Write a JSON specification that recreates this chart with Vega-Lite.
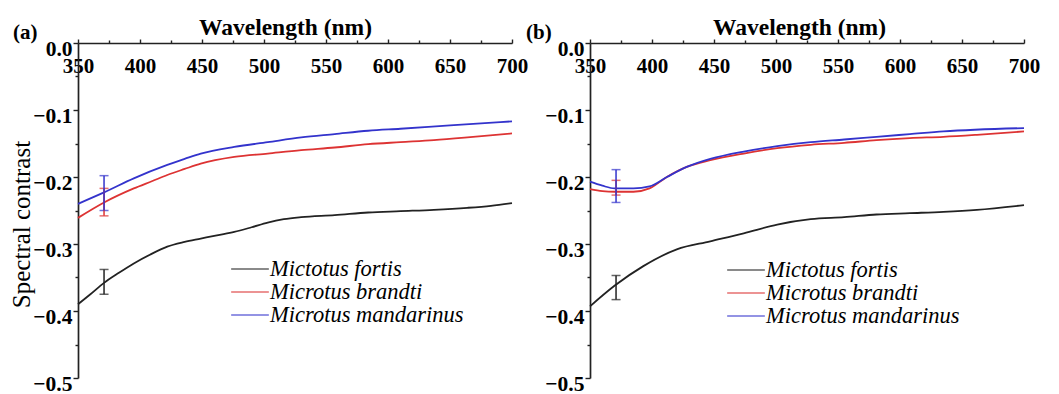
{
  "$schema": "https://vega.github.io/schema/vega-lite/v6.json",
  "background": "white",
  "padding": {"left": 9, "top": 15, "right": 5, "bottom": 0},
  "config": {
    "view": {"stroke": null},
    "axis": {"grid": false, "domainColor": "#222", "tickColor": "#222", "labelColor": "#000", "titleColor": "#000", "domainWidth": 1.7, "tickWidth": 1.4, "labelFont": "Liberation Serif, Times New Roman, serif", "titleFont": "Liberation Serif, Times New Roman, serif"},
    "title": {"font": "Liberation Serif, Times New Roman, serif", "fontSize": 21, "fontWeight": "bold", "color": "#000"},
    "legend": {"orient": "none", "symbolType": "stroke", "symbolSize": 1420, "symbolStrokeWidth": 1.7, "labelFont": "Liberation Serif, Times New Roman, serif", "labelFontStyle": "italic", "labelFontSize": 22.5, "labelColor": "#000", "labelOffset": 0, "labelLimit": 400, "rowPadding": 0, "clipHeight": 18, "padding": 0, "title": null}
  },
  "datasets": {
    "a": [
      {"wl": 350, "val": -0.390, "sp": "Mictotus fortis"},
      {"wl": 360, "val": -0.375, "sp": "Mictotus fortis"},
      {"wl": 371, "val": -0.358, "sp": "Mictotus fortis"},
      {"wl": 383, "val": -0.343, "sp": "Mictotus fortis"},
      {"wl": 395, "val": -0.329, "sp": "Mictotus fortis"},
      {"wl": 408, "val": -0.316, "sp": "Mictotus fortis"},
      {"wl": 422, "val": -0.304, "sp": "Mictotus fortis"},
      {"wl": 436, "val": -0.297, "sp": "Mictotus fortis"},
      {"wl": 449, "val": -0.292, "sp": "Mictotus fortis"},
      {"wl": 462, "val": -0.287, "sp": "Mictotus fortis"},
      {"wl": 476, "val": -0.282, "sp": "Mictotus fortis"},
      {"wl": 490, "val": -0.275, "sp": "Mictotus fortis"},
      {"wl": 503, "val": -0.268, "sp": "Mictotus fortis"},
      {"wl": 516, "val": -0.263, "sp": "Mictotus fortis"},
      {"wl": 530, "val": -0.260, "sp": "Mictotus fortis"},
      {"wl": 557, "val": -0.257, "sp": "Mictotus fortis"},
      {"wl": 584, "val": -0.253, "sp": "Mictotus fortis"},
      {"wl": 610, "val": -0.251, "sp": "Mictotus fortis"},
      {"wl": 637, "val": -0.249, "sp": "Mictotus fortis"},
      {"wl": 664, "val": -0.246, "sp": "Mictotus fortis"},
      {"wl": 683, "val": -0.243, "sp": "Mictotus fortis"},
      {"wl": 700, "val": -0.239, "sp": "Mictotus fortis"},
      {"wl": 350, "val": -0.261, "sp": "Microtus brandti"},
      {"wl": 371, "val": -0.238, "sp": "Microtus brandti"},
      {"wl": 395, "val": -0.217, "sp": "Microtus brandti"},
      {"wl": 410, "val": -0.206, "sp": "Microtus brandti"},
      {"wl": 422, "val": -0.197, "sp": "Microtus brandti"},
      {"wl": 436, "val": -0.188, "sp": "Microtus brandti"},
      {"wl": 449, "val": -0.180, "sp": "Microtus brandti"},
      {"wl": 476, "val": -0.170, "sp": "Microtus brandti"},
      {"wl": 503, "val": -0.165, "sp": "Microtus brandti"},
      {"wl": 530, "val": -0.160, "sp": "Microtus brandti"},
      {"wl": 557, "val": -0.156, "sp": "Microtus brandti"},
      {"wl": 584, "val": -0.151, "sp": "Microtus brandti"},
      {"wl": 610, "val": -0.148, "sp": "Microtus brandti"},
      {"wl": 637, "val": -0.145, "sp": "Microtus brandti"},
      {"wl": 664, "val": -0.141, "sp": "Microtus brandti"},
      {"wl": 700, "val": -0.135, "sp": "Microtus brandti"},
      {"wl": 350, "val": -0.240, "sp": "Microtus mandarinus"},
      {"wl": 371, "val": -0.223, "sp": "Microtus mandarinus"},
      {"wl": 395, "val": -0.202, "sp": "Microtus mandarinus"},
      {"wl": 422, "val": -0.182, "sp": "Microtus mandarinus"},
      {"wl": 436, "val": -0.173, "sp": "Microtus mandarinus"},
      {"wl": 449, "val": -0.165, "sp": "Microtus mandarinus"},
      {"wl": 476, "val": -0.155, "sp": "Microtus mandarinus"},
      {"wl": 503, "val": -0.148, "sp": "Microtus mandarinus"},
      {"wl": 530, "val": -0.141, "sp": "Microtus mandarinus"},
      {"wl": 557, "val": -0.136, "sp": "Microtus mandarinus"},
      {"wl": 584, "val": -0.131, "sp": "Microtus mandarinus"},
      {"wl": 610, "val": -0.128, "sp": "Microtus mandarinus"},
      {"wl": 650, "val": -0.123, "sp": "Microtus mandarinus"},
      {"wl": 700, "val": -0.117, "sp": "Microtus mandarinus"}
    ],
    "b": [
      {"wl": 350, "val": -0.393, "sp": "Mictotus fortis"},
      {"wl": 370, "val": -0.362, "sp": "Mictotus fortis"},
      {"wl": 393, "val": -0.333, "sp": "Mictotus fortis"},
      {"wl": 420, "val": -0.308, "sp": "Mictotus fortis"},
      {"wl": 447, "val": -0.296, "sp": "Mictotus fortis"},
      {"wl": 474, "val": -0.284, "sp": "Mictotus fortis"},
      {"wl": 501, "val": -0.271, "sp": "Mictotus fortis"},
      {"wl": 528, "val": -0.263, "sp": "Mictotus fortis"},
      {"wl": 555, "val": -0.260, "sp": "Mictotus fortis"},
      {"wl": 581, "val": -0.256, "sp": "Mictotus fortis"},
      {"wl": 608, "val": -0.254, "sp": "Mictotus fortis"},
      {"wl": 635, "val": -0.252, "sp": "Mictotus fortis"},
      {"wl": 662, "val": -0.249, "sp": "Mictotus fortis"},
      {"wl": 700, "val": -0.242, "sp": "Mictotus fortis"},
      {"wl": 350, "val": -0.218, "sp": "Microtus brandti"},
      {"wl": 360, "val": -0.221, "sp": "Microtus brandti"},
      {"wl": 370, "val": -0.222, "sp": "Microtus brandti"},
      {"wl": 385, "val": -0.222, "sp": "Microtus brandti"},
      {"wl": 398, "val": -0.217, "sp": "Microtus brandti"},
      {"wl": 412, "val": -0.200, "sp": "Microtus brandti"},
      {"wl": 428, "val": -0.185, "sp": "Microtus brandti"},
      {"wl": 447, "val": -0.175, "sp": "Microtus brandti"},
      {"wl": 474, "val": -0.165, "sp": "Microtus brandti"},
      {"wl": 501, "val": -0.157, "sp": "Microtus brandti"},
      {"wl": 528, "val": -0.152, "sp": "Microtus brandti"},
      {"wl": 555, "val": -0.149, "sp": "Microtus brandti"},
      {"wl": 581, "val": -0.145, "sp": "Microtus brandti"},
      {"wl": 608, "val": -0.142, "sp": "Microtus brandti"},
      {"wl": 635, "val": -0.140, "sp": "Microtus brandti"},
      {"wl": 662, "val": -0.137, "sp": "Microtus brandti"},
      {"wl": 700, "val": -0.132, "sp": "Microtus brandti"},
      {"wl": 350, "val": -0.207, "sp": "Microtus mandarinus"},
      {"wl": 360, "val": -0.213, "sp": "Microtus mandarinus"},
      {"wl": 370, "val": -0.217, "sp": "Microtus mandarinus"},
      {"wl": 385, "val": -0.217, "sp": "Microtus mandarinus"},
      {"wl": 398, "val": -0.214, "sp": "Microtus mandarinus"},
      {"wl": 412, "val": -0.200, "sp": "Microtus mandarinus"},
      {"wl": 428, "val": -0.185, "sp": "Microtus mandarinus"},
      {"wl": 447, "val": -0.173, "sp": "Microtus mandarinus"},
      {"wl": 474, "val": -0.162, "sp": "Microtus mandarinus"},
      {"wl": 501, "val": -0.154, "sp": "Microtus mandarinus"},
      {"wl": 528, "val": -0.148, "sp": "Microtus mandarinus"},
      {"wl": 555, "val": -0.144, "sp": "Microtus mandarinus"},
      {"wl": 581, "val": -0.140, "sp": "Microtus mandarinus"},
      {"wl": 608, "val": -0.136, "sp": "Microtus mandarinus"},
      {"wl": 635, "val": -0.132, "sp": "Microtus mandarinus"},
      {"wl": 700, "val": -0.127, "sp": "Microtus mandarinus"}
    ],
    "ea": [
      {"wl": 371, "lo": -0.375, "hi": -0.338, "sp": "Mictotus fortis"},
      {"wl": 371, "lo": -0.258, "hi": -0.217, "sp": "Microtus brandti"},
      {"wl": 371, "lo": -0.250, "hi": -0.198, "sp": "Microtus mandarinus"}
    ],
    "eb": [
      {"wl": 371, "lo": -0.383, "hi": -0.347, "sp": "Mictotus fortis"},
      {"wl": 371, "lo": -0.227, "hi": -0.205, "sp": "Microtus brandti"},
      {"wl": 371, "lo": -0.238, "hi": -0.189, "sp": "Microtus mandarinus"}
    ]
  },
  "hconcat": [
    {
      "width": 434, "height": 335,
      "title": {"text": "(a)", "anchor": "start", "frame": "group", "dx": -65, "offset": -28},
      "layer": [
        {
          "data": {"name": "a"},
          "mark": {"type": "line", "strokeWidth": 1.8, "interpolate": "monotone"},
          "encoding": {
            "x": {"field": "wl", "type": "quantitative", "scale": {"domain": [350, 700], "nice": false},
              "axis": {"orient": "top", "values": [350, 400, 450, 500, 550, 600, 650, 700], "tickSize": 4, "labelPadding": -16, "labelBaseline": "top", "labelFontSize": 21, "labelFontWeight": "bold", "labelFlush": false, "labelOverlap": false, "labelBound": false, "title": "Wavelength (nm)", "titleFontSize": 23.5, "titleFontWeight": "bold", "titlePadding": -1, "titleX": 207}},
            "y": {"field": "val", "type": "quantitative", "scale": {"domain": [-0.5, 0], "nice": false},
              "axis": {"values": [0, -0.1, -0.2, -0.3, -0.4, -0.5], "format": ".1f", "tickSize": 5, "labelPadding": 1, "labelBaseline": "middle", "labelOffset": 6, "labelFontSize": 21.5, "labelFontWeight": "bold", "labelFlush": false, "labelOverlap": false, "labelBound": false, "title": "Spectral contrast", "titleFontSize": 25, "titleFontWeight": "normal", "titlePadding": -2, "titleY": 181}},
            "color": {"field": "sp", "type": "nominal", "scale": {"domain": ["Mictotus fortis", "Microtus brandti", "Microtus mandarinus"], "range": ["#222222", "#dd3333", "#3333cc"]},
              "legend": {"legendX": 152, "legendY": 217}}
          }
        },
        {
          "data": {"name": "ea"},
          "mark": {"type": "errorbar", "ticks": {"size": 9}, "thickness": 1.5},
          "encoding": {
            "x": {"field": "wl", "type": "quantitative", "axis": null},
            "y": {"field": "lo", "type": "quantitative", "axis": null},
            "y2": {"field": "hi"},
            "color": {"field": "sp", "type": "nominal"}
          }
        },
        {
          "data": {"name": "a"},
          "mark": {"type": "point", "opacity": 0},
          "encoding": {
            "x": {"field": "wl", "type": "quantitative", "axis": {"orient": "top", "values": [375, 425, 475, 525, 575, 625, 675], "tickSize": 3, "labels": false, "domain": false, "title": null}},
            "y": {"field": "val", "type": "quantitative", "axis": {"orient": "left", "values": [-0.05, -0.15, -0.25, -0.35, -0.45], "tickSize": 3, "labels": false, "domain": false, "title": null}}
          }
        }
      ],
      "resolve": {"axis": {"x": "independent", "y": "independent"}}
    },
    {
      "width": 434, "height": 335,
      "title": {"text": "(b)", "anchor": "start", "frame": "group", "dx": -64, "offset": -28},
      "layer": [
        {
          "data": {"name": "b"},
          "mark": {"type": "line", "strokeWidth": 1.8, "interpolate": "monotone"},
          "encoding": {
            "x": {"field": "wl", "type": "quantitative", "scale": {"domain": [350, 700], "nice": false},
              "axis": {"orient": "top", "values": [350, 400, 450, 500, 550, 600, 650, 700], "tickSize": 4, "labelPadding": -16, "labelBaseline": "top", "labelFontSize": 21, "labelFontWeight": "bold", "labelFlush": false, "labelOverlap": false, "labelBound": false, "title": "Wavelength (nm)", "titleFontSize": 23.5, "titleFontWeight": "bold", "titlePadding": -1, "titleX": 209}},
            "y": {"field": "val", "type": "quantitative", "scale": {"domain": [-0.5, 0], "nice": false},
              "axis": {"values": [0, -0.1, -0.2, -0.3, -0.4, -0.5], "format": ".1f", "tickSize": 5, "labelPadding": 1, "labelBaseline": "middle", "labelOffset": 6, "labelFontSize": 21.5, "labelFontWeight": "bold", "labelFlush": false, "labelOverlap": false, "labelBound": false, "title": null}},
            "color": {"field": "sp", "type": "nominal", "scale": {"domain": ["Mictotus fortis", "Microtus brandti", "Microtus mandarinus"], "range": ["#222222", "#dd3333", "#3333cc"]},
              "legend": {"legendX": 136, "legendY": 218}}
          }
        },
        {
          "data": {"name": "eb"},
          "mark": {"type": "errorbar", "ticks": {"size": 9}, "thickness": 1.5},
          "encoding": {
            "x": {"field": "wl", "type": "quantitative", "axis": null},
            "y": {"field": "lo", "type": "quantitative", "axis": null},
            "y2": {"field": "hi"},
            "color": {"field": "sp", "type": "nominal"}
          }
        },
        {
          "data": {"name": "b"},
          "mark": {"type": "point", "opacity": 0},
          "encoding": {
            "x": {"field": "wl", "type": "quantitative", "axis": {"orient": "top", "values": [375, 425, 475, 525, 575, 625, 675], "tickSize": 3, "labels": false, "domain": false, "title": null}},
            "y": {"field": "val", "type": "quantitative", "axis": {"orient": "left", "values": [-0.05, -0.15, -0.25, -0.35, -0.45], "tickSize": 3, "labels": false, "domain": false, "title": null}}
          }
        }
      ],
      "resolve": {"axis": {"x": "independent", "y": "independent"}}
    }
  ],
  "spacing": 78,
  "bounds": "flush",
  "resolve": {"scale": {"color": "independent"}, "legend": {"color": "independent"}}
}
